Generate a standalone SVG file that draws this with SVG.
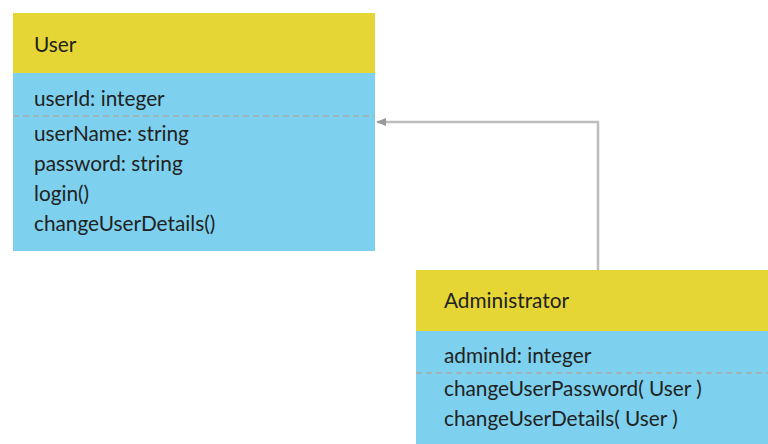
<svg xmlns="http://www.w3.org/2000/svg" width="768" height="444" viewBox="0 0 768 444">
  <style>
    .head { fill: #E5D636; }
    .body { fill: #7DD1EE; }
    .sep { stroke: #A9A9A9; stroke-width: 1.5; stroke-dasharray: 6 4; fill: none; }
    .t { font-family: Lato, "Noto Sans", "DejaVu Sans", sans-serif; font-size: 20.8px; fill: #222; }
    .link { stroke: #BDBDBD; stroke-width: 2.5; fill: none; }
  </style>
  <defs>
    <marker id="arrow" markerWidth="10" markerHeight="8" refX="9" refY="4" orient="auto" markerUnits="userSpaceOnUse">
      <path d="M0,0 L10,4 L0,8 Z" fill="#999"/>
    </marker>
  </defs>
  <rect width="768" height="444" fill="#fff"/>

  <g id="connectors">
    <path class="link" d="M598,270 V122 H377" marker-end="url(#arrow)"/>
  </g>

  <g id="user">
    <rect class="body" x="13" y="73" width="362" height="178"/>
    <rect class="head" x="13" y="13" width="362" height="60"/>
    <text class="t" x="34" y="52">User</text>
    <text class="t" x="34" y="106">userId: integer</text>
    <line class="sep" x1="13" y1="116" x2="375" y2="116"/>
    <text class="t" x="34" y="141">userName: string</text>
    <text class="t" x="34" y="171">password: string</text>
    <text class="t" x="34" y="201">login()</text>
    <text class="t" x="34" y="231">changeUserDetails()</text>
  </g>

  <g id="administrator">
    <rect class="body" x="416" y="331" width="352" height="113"/>
    <rect class="head" x="416" y="270" width="352" height="61"/>
    <text class="t" x="444" y="308">Administrator</text>
    <text class="t" x="444" y="363">adminId: integer</text>
    <line class="sep" x1="416" y1="373" x2="768" y2="373"/>
    <text class="t" x="444" y="396">changeUserPassword( User )</text>
    <text class="t" x="444" y="426">changeUserDetails( User )</text>
  </g>
</svg>
